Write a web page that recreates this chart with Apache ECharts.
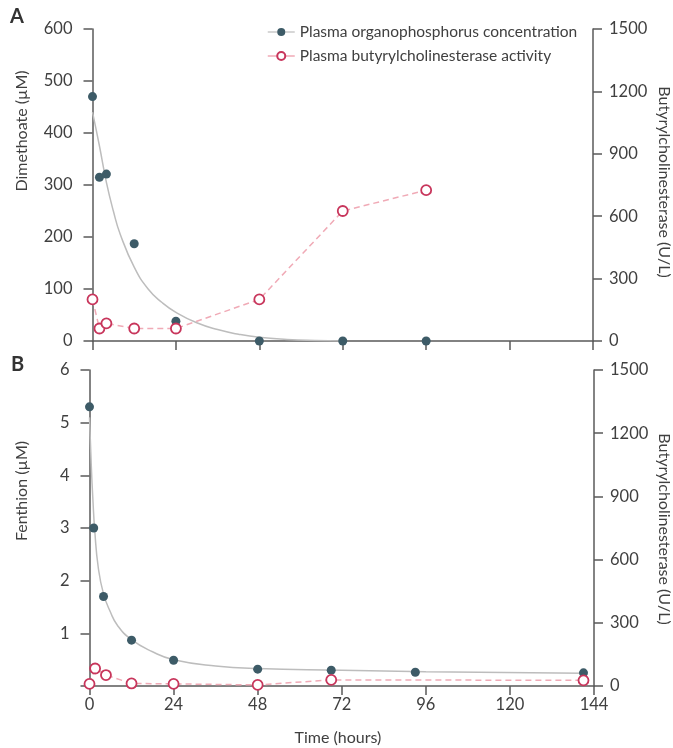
<!DOCTYPE html>
<html>
<head>
<meta charset="utf-8">
<script src="https://cdn.jsdelivr.net/npm/echarts@6/dist/echarts.min.js"></script>
<style>
  html, body { margin: 0; padding: 0; background: #fff; }
  #chart { width: 673px; height: 748px; }
</style>
</head>
<body>
<div id="chart"></div>
<script>
// Panel A - dimethoate
const dimTime = [0, 2, 4, 12, 24, 48, 72, 96];
const dimConc = [470, 315, 321, 187, 38, 0, 0, 0];
// fitted decay curve
const dimFitTime = [0, 2, 4, 6, 8, 12, 16, 20, 24, 30, 36, 42, 48, 56, 64, 72];
const dimFitConc = [440, 375, 305, 250, 205, 142, 100, 74, 55, 35, 22, 13, 7, 3, 1, 0];
const bcheATime = [0, 2, 4, 12, 24, 48, 72, 96];
const bcheAVal = [200, 60, 85, 60, 60, 200, 625, 725];

// Panel B - fenthion
const fenTime = [0, 1.2, 4, 12, 24, 48, 69, 93, 141];
const fenConc = [5.3, 3.0, 1.7, 0.87, 0.49, 0.32, 0.3, 0.26, 0.25];
const fenFitTime = [0, 0.5, 1, 1.5, 2.5, 4, 6, 8, 12, 18, 24, 36, 48, 72, 96, 141];
const fenFitConc = [5.1, 4.2, 3.5, 2.95, 2.25, 1.75, 1.4, 1.15, 0.88, 0.65, 0.5, 0.38, 0.33, 0.3, 0.27, 0.24];
const bcheBTime = [0, 1.6, 4.7, 12, 24, 48, 69, 141];
const bcheBVal = [10, 83, 52, 12, 10, 5, 29, 27];

const seriesOP = "Plasma organophosphorus concentration";
const seriesBChE = "Plasma butyrylcholinesterase activity";

const zip = (xs, ys) => xs.map((x, i) => [x, ys[i]]);

const FONT = "Lato";
const axisColor = "#5a5a5a";
const textColor = "#404040";
const dotColor = "#3d5b67";
const fitColor = "#bdbdbd";
const ringColor = "#c8365c";
const dashColor = "#f0aab6";

const axisBase = {
  axisLine: { show: true, lineStyle: { color: axisColor, width: 1.5 } },
  axisTick: { show: true, length: 9, lineStyle: { color: axisColor, width: 1.5 } },
  splitLine: { show: false },
  axisLabel: { color: textColor, fontSize: 16.5, fontFamily: FONT },
};

function xAxisFor(grid, showLabels) {
  return Object.assign({}, axisBase, {
    type: "value", gridIndex: grid, min: 0, max: 144, interval: 24,
    axisLabel: Object.assign({}, axisBase.axisLabel, { show: showLabels, margin: 10 }),
  });
}
function yAxisFor(grid, side, max, interval, hideZero) {
  return Object.assign({}, axisBase, {
    type: "value", gridIndex: grid, position: side, min: 0, max: max, interval: interval,
    axisLabel: Object.assign({}, axisBase.axisLabel, {
      margin: side === "left" ? 20 : 16,
      formatter: (v) => (hideZero && v === 0 ? "" : String(v)),
    }),
  });
}

function dots(name, x, y, data) {
  return {
    name: name, type: "line", xAxisIndex: x, yAxisIndex: y, data: data,
    symbol: "circle", symbolSize: 9, showSymbol: true, z: 3,
    lineStyle: { opacity: 0 },
    itemStyle: { color: dotColor },
  };
}
function fit(x, y, data) {
  return {
    type: "line", xAxisIndex: x, yAxisIndex: y, data: data,
    smooth: 0.5, showSymbol: false, symbol: "none", z: 2,
    lineStyle: { color: fitColor, width: 1.5 },
  };
}
function rings(name, x, y, data) {
  return {
    name: name, type: "line", xAxisIndex: x, yAxisIndex: y, data: data,
    symbol: "circle", symbolSize: 10, showSymbol: true, z: 4,
    lineStyle: { color: dashColor, width: 1.5, type: [6, 4] },
    itemStyle: { color: "#fff", borderColor: ringColor, borderWidth: 1.8 },
  };
}

const titleFont = "16px " + FONT;

const chart = echarts.init(document.getElementById("chart"));
chart.setOption({
  animation: false,
  backgroundColor: "#fff",
  grid: [
    { left: 92.5, right: 80, top: 29, height: 312 },
    { left: 89.5, right: 79, top: 370, height: 316 },
  ],
  xAxis: [xAxisFor(0, false), xAxisFor(1, true)],
  yAxis: [
    yAxisFor(0, "left", 600, 100, false),
    yAxisFor(0, "right", 1500, 300, false),
    yAxisFor(1, "left", 6, 1, true),
    yAxisFor(1, "right", 1500, 300, false),
  ],
  legend: {
    orient: "vertical", left: 262, top: 19, itemWidth: 27, itemHeight: 10, itemGap: 8,
    textStyle: { color: textColor, fontSize: 15.5, fontFamily: FONT },
    data: [
      { name: seriesOP, lineStyle: { opacity: 1, color: fitColor, width: 1.2, type: "solid" } },
      { name: seriesBChE, lineStyle: { opacity: 1, color: dashColor, width: 1.5, type: "solid" } },
    ],
  },
  graphic: [
    { type: "text", left: 10, top: 7, style: { text: "A", font: "bold 20px " + FONT, fill: "#333" } },
    { type: "text", left: 11, top: 355, style: { text: "B", font: "bold 20px " + FONT, fill: "#333" } },
    { type: "text", x: 22, y: 131, rotation: Math.PI / 2,
      style: { text: "Dimethoate (µM)", font: titleFont, fill: textColor, align: "center", verticalAlign: "middle" } },
    { type: "text", x: 22, y: 491, rotation: Math.PI / 2,
      style: { text: "Fenthion (µM)", font: titleFont, fill: textColor, align: "center", verticalAlign: "middle" } },
    { type: "text", x: 664, y: 182, rotation: -Math.PI / 2,
      style: { text: "Butyrylcholinesterase (U/L)", font: titleFont, fill: textColor, align: "center", verticalAlign: "middle" } },
    { type: "text", x: 664, y: 529, rotation: -Math.PI / 2,
      style: { text: "Butyrylcholinesterase (U/L)", font: titleFont, fill: textColor, align: "center", verticalAlign: "middle" } },
    { type: "text", x: 338, y: 738,
      style: { text: "Time (hours)", font: titleFont, fill: textColor, align: "center", verticalAlign: "middle" } },
  ],
  series: [
    fit(0, 0, zip(dimFitTime, dimFitConc)),
    dots(seriesOP, 0, 0, zip(dimTime, dimConc)),
    rings(seriesBChE, 0, 1, zip(bcheATime, bcheAVal)),
    fit(1, 2, zip(fenFitTime, fenFitConc)),
    dots(seriesOP, 1, 2, zip(fenTime, fenConc)),
    rings(seriesBChE, 1, 3, zip(bcheBTime, bcheBVal)),
  ],
});
</script>
</body>
</html>
